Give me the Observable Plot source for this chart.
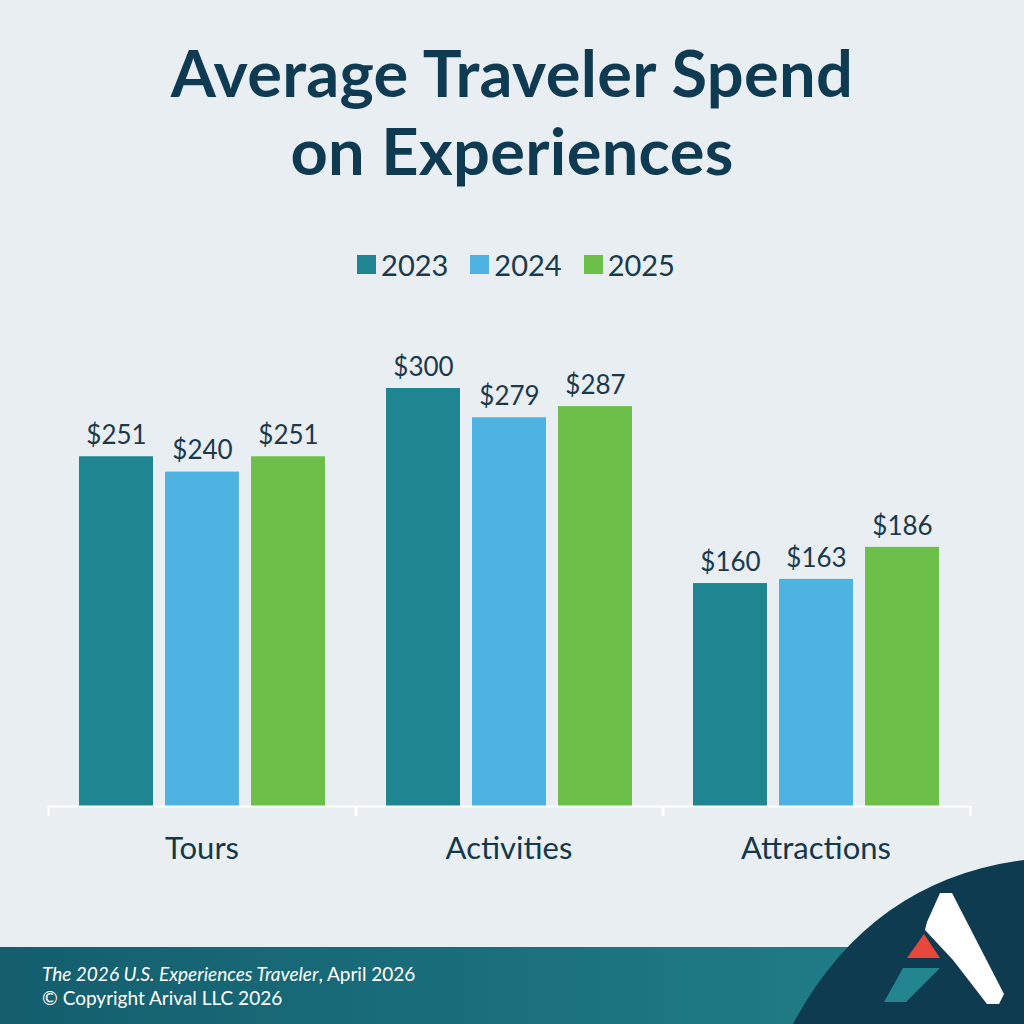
<!DOCTYPE html>
<html>
<head>
<meta charset="utf-8">
<script src="https://cdn.jsdelivr.net/npm/d3@7"></script>
<script src="https://cdn.jsdelivr.net/npm/@observablehq/plot@0.6"></script>
<style>
  html, body { margin: 0; padding: 0; }
  body { width: 1024px; height: 1024px; overflow: hidden; background: #e9eef2; font-family: Lato, "Open Sans", sans-serif; }
  #page { position: relative; width: 1024px; height: 1024px; }
  #title { position: absolute; top: 33px; left: 0; width: 1024px; text-align: center; margin: 0;
           font-size: 65px; line-height: 78px; font-weight: 700; color: #0f3b52; letter-spacing: 0.3px; }
  #legend { position: absolute; top: 247px; left: 4px; width: 1024px; display: flex; justify-content: center; gap: 22px;
            font-size: 29px; color: #173a4d; }
  #legend .item { display: flex; align-items: center; gap: 5px; }
  #legend .sw { width: 19px; height: 19px; display: inline-block; }
  #chart { position: absolute; top: 300px; left: 0; }
  #deco { position: absolute; top: 0; left: 0; }
  #caption { position: absolute; left: 42px; top: 962px; color: #ffffff; font-size: 19px; line-height: 24px; }
</style>
</head>
<body>
<div id="page">
  <svg id="deco" width="1024" height="1024">
    <defs>
      <linearGradient id="band" x1="0" x2="1" y1="0" y2="0">
        <stop offset="0" stop-color="#145e6e"/>
        <stop offset="1" stop-color="#21828c"/>
      </linearGradient>
    </defs>
    <rect x="0" y="947" width="1024" height="77" fill="url(#band)"/>
    <path d="M 793 1024 Q 870 880 1024 860 L 1024 1024 Z" fill="#0f3b50"/>
    <polygon points="940,893 952,893 1004,994 999,1004 987,1004 953,960 925,930 927,922" fill="#ffffff"/>
    <polygon points="907,958 940,958 924,934" fill="#e8473b"/>
    <polygon points="903,968 940,968 906,1002 884,1002" fill="#23858f"/>
  </svg>
  <h1 id="title">Average Traveler Spend<br>on Experiences</h1>
  <div id="legend"></div>
  <div id="chart"></div>
  <div id="caption"><i>The 2026 U.S. Experiences Traveler</i>, April 2026<br>© Copyright Arival LLC 2026</div>
</div>
<script>
const categories = ["Tours", "Activities", "Attractions"];
const years = ["2023", "2024", "2025"];
const values2023 = [251, 300, 160];
const values2024 = [240, 279, 163];
const values2025 = [251, 287, 186];
const colors = ["#1f8590", "#4fb3e2", "#6cc04a"];

const series = [values2023, values2024, values2025];
const data = [];
categories.forEach((c, i) => {
  years.forEach((y, j) => data.push({category: c, year: y, value: series[j][i]}));
});

const legend = document.getElementById("legend");
years.forEach((y, j) => {
  const item = document.createElement("div");
  item.className = "item";
  const sw = document.createElement("span");
  sw.className = "sw";
  sw.style.background = colors[j];
  const t = document.createElement("span");
  t.textContent = y;
  item.appendChild(sw);
  item.appendChild(t);
  legend.appendChild(item);
});

const chart = Plot.plot({
  width: 1024,
  height: 586,
  marginLeft: 47,
  marginRight: 54,
  marginTop: 88,
  marginBottom: 80,
  style: {background: "transparent", fontFamily: "Lato, sans-serif", fontSize: "31px", color: "#13384b"},
  fx: {domain: categories, padding: 0, label: null, tickSize: 0, tickPadding: 30},
  x: {domain: years, axis: null, paddingInner: 0.14, paddingOuter: 0.34},
  y: {domain: [0, 300], axis: null},
  color: {domain: years, range: colors},
  marks: [
    Plot.barY(data, {fx: "category", x: "year", y: "value", fill: "year"}),
    Plot.ruleY([0], {stroke: "#ffffff", strokeWidth: 2}),
    Plot.ruleX(["2023"], {x: d => d, y1: 0, y2: -7, dx: -68, stroke: "#ffffff", strokeWidth: 2}),
    Plot.ruleX(["2025"], {x: d => d, y1: 0, y2: -7, dx: 68, stroke: "#ffffff", strokeWidth: 2}),
    Plot.text(data, {fx: "category", x: "year", y: "value", text: d => "$" + d.value, dy: -21, fontSize: 26, fill: "#1a3a4c"})
  ]
});
document.getElementById("chart").appendChild(chart);
</script>
</body>
</html>
